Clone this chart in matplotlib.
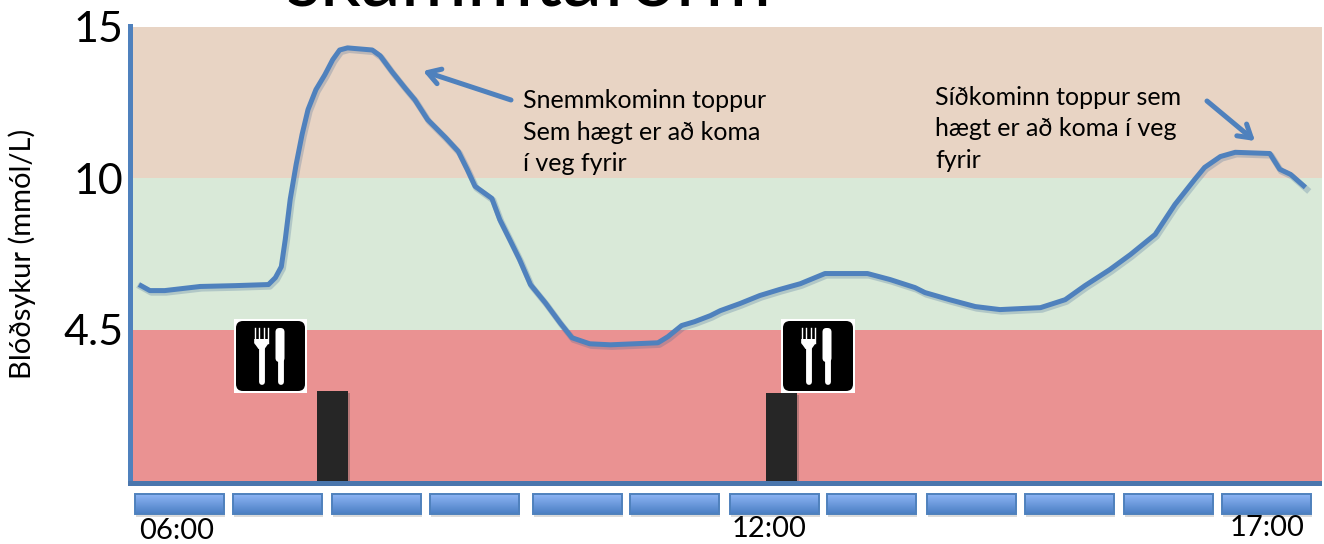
import numpy as np
import matplotlib
matplotlib.use('Agg')
import matplotlib.pyplot as plt
from matplotlib.patches import FancyBboxPatch, Rectangle, Polygon

# glucose curve
hours = [5.59, 5.70, 5.85, 6.21, 6.56, 6.90, 6.97, 7.03, 7.07, 7.12, 7.18, 7.24, 7.30, 7.38, 7.47, 7.55,
         7.62, 7.70, 7.95, 8.03, 8.15, 8.28, 8.38, 8.51, 8.69, 8.82, 8.91, 8.99, 9.16, 9.24, 9.34, 9.44,
         9.55, 9.70, 9.85, 9.97, 10.15, 10.36, 10.84, 10.94, 11.08, 11.21, 11.37, 11.47, 11.67, 11.87,
         12.07, 12.28, 12.53, 12.96, 13.19, 13.44, 13.54, 13.79, 14.05, 14.30, 14.71, 14.96, 15.16,
         15.41, 15.62, 15.87, 16.07, 16.27, 16.37, 16.53, 16.68, 17.03, 17.13, 17.24, 17.39]
glucose = [6.14, 5.92, 5.92, 6.07, 6.10, 6.14, 6.39, 6.79, 7.78, 9.24, 10.46, 11.45, 12.27, 12.93, 13.42, 13.92,
           14.24, 14.31, 14.24, 14.05, 13.52, 12.99, 12.60, 11.94, 11.35, 10.89, 10.30, 9.71, 9.27, 8.50, 7.78, 7.05,
           6.14, 5.48, 4.75, 4.26, 4.08, 4.05, 4.11, 4.29, 4.65, 4.79, 5.01, 5.19, 5.45, 5.74,
           5.96, 6.17, 6.54, 6.54, 6.32, 6.03, 5.85, 5.59, 5.34, 5.23, 5.30, 5.59, 6.10,
           6.68, 7.23, 7.96, 9.05, 9.96, 10.36, 10.72, 10.86, 10.82, 10.30, 10.13, 9.67]

# meals (dark bars)
meal_hours = [7.55, 12.09]
meal_heights = [2.68, 2.62]

# glucose zones
zone_low = [0, 4.5]
zone_ok = [4.5, 10]
zone_high = [10, 15]

y_ticks = [4.5, 10, 15]
y_knots = [0, 4.5, 10, 15]
block_hours = [6.00, 6.99, 7.99, 8.98, 10.03, 11.01, 12.02, 13.00, 14.01, 15.00, 16.01, 17.00]
time_hours = [5.97, 11.96, 17.00]
time_labels = ['06:00', '12:00', '17:00']

W, H = 1324, 544
FONT = 'Lato'
BLUE = '#4F81BD'

plt.rcParams['font.family'] = [FONT, 'DejaVu Sans']


def px_rect(x0, y0, x1, y1):
    # pixel box (y down) to figure fractions
    return [x0 / W, 1 - y1 / H, (x1 - x0) / W, (y1 - y0) / H]


def forward(v):
    return np.interp(v, y_knots, [0, 1, 2, 3])


def inverse(v):
    return np.interp(v, [0, 1, 2, 3], y_knots)


def hour_to_px(h):
    return 179.5 + (h - 6) * 98.85


def px_to_hour(p):
    return 6 + (p - 179.5) / 98.85


def draw_icon(over, x0, y0, x1, y1):
    # white box, black rounded sign, fork and knife
    over.add_patch(Rectangle((x0, y0), x1 - x0, y1 - y0, fc='white', ec='none', zorder=6))
    over.add_patch(FancyBboxPatch((x0 + 2, y0 + 2), x1 - x0 - 4, y1 - y0 - 4,
                                  boxstyle='round,pad=0,rounding_size=7', fc='black', ec='none', zorder=7))
    cx = x0 + 27.5
    for dx in (-6.5, -2.2, 2.2, 6.5):
        over.plot([cx + dx, cx + dx], [y0 + 9, y0 + 24], color='white', lw=1.0, zorder=8)
    over.add_patch(Polygon([(cx - 7.3, y0 + 20), (cx + 7.3, y0 + 20), (cx + 7.3, y0 + 24), (cx + 3, y0 + 30),
                            (cx - 3, y0 + 30), (cx - 7.3, y0 + 24)], fc='white', ec='none', zorder=8))
    over.plot([cx, cx], [y0 + 28, y0 + 63], color='white', lw=4.2, solid_capstyle='round', zorder=8)
    kx = x0 + 46
    over.add_patch(FancyBboxPatch((kx - 4.5, y0 + 9), 9, 34, boxstyle='round,pad=0,rounding_size=4',
                                  fc='white', ec='none', zorder=8))
    over.plot([kx + 1, kx + 1], [y0 + 40, y0 + 63], color='white', lw=4.2, solid_capstyle='round', zorder=8)


fig = plt.figure(figsize=(W / 100, H / 100), dpi=100, facecolor='white')

ax = fig.add_axes(px_rect(133, 27, 1322, 481))
ax.set_yscale('function', functions=(forward, inverse))
ax.set_xlim(px_to_hour(133), px_to_hour(1322))
ax.set_ylim(0, 15)

ax.axhspan(*zone_low, color='#EA9292', lw=0, zorder=1)
ax.axhspan(*zone_ok, color='#D9E9D8', lw=0, zorder=1)
ax.axhspan(*zone_high, color='#E8D4C4', lw=0, zorder=1)

shift = matplotlib.transforms.Affine2D().translate(2, -2)
ax.bar(meal_hours, meal_heights, width=0.315, color='#7A5A5A', alpha=0.45, zorder=2.5,
       transform=ax.transData + shift)
ax.bar(meal_hours, meal_heights, width=0.315, color='#262626', zorder=3)

ax.plot(hours, glucose, color='#3A6494', alpha=0.25, lw=4.5, zorder=3.5,
        transform=ax.transData + matplotlib.transforms.Affine2D().translate(1.5, -2))
ax.plot(hours, glucose, color=BLUE, lw=3.6, solid_joinstyle='round', solid_capstyle='butt', zorder=4)

for s in ('top', 'right', 'left', 'bottom'):
    ax.spines[s].set_visible(False)

ax.set_yticks(y_ticks)
ax.set_yticklabels([str(t) for t in y_ticks], fontsize=31, color='black')
ax.minorticks_off()
ax.tick_params(axis='y', length=0, pad=7)
ax.set_xticks([])

# overlay in pixel coordinates for the slide furniture
over = fig.add_axes([0, 0, 1, 1], zorder=5)
over.set_xlim(0, W)
over.set_ylim(H, 0)
over.axis('off')
over.patch.set_alpha(0)

# axis strokes
over.add_patch(Rectangle((128, 24), 5, 462, fc=BLUE, ec='none', zorder=3))
over.add_patch(Rectangle((128, 481), 1194, 5, fc='#4A76AD', ec='none', zorder=3))

# hour blocks along the bottom
grad = np.linspace(0, 1, 32).reshape(-1, 1)
cmap = matplotlib.colors.LinearSegmentedColormap.from_list('blk', ['#8DB4F4', '#4B7FC4'])
for h in block_hours:
    x0 = hour_to_px(h) - 44.5
    x1 = hour_to_px(h) + 44.5
    over.add_patch(Rectangle((x0 + 1, 497), x1 - x0, 20, fc='#999999', alpha=0.35, ec='none', zorder=2))
    over.imshow(grad, extent=(x0, x1, 514, 494), cmap=cmap, aspect='auto', zorder=3)
    over.add_patch(Rectangle((x0, 494), x1 - x0, 20, fc='none', ec=BLUE, lw=1.4, zorder=4))
over.set_xlim(0, W)
over.set_ylim(H, 0)

for h, lab, y in zip(time_hours, time_labels, (531, 529, 528)):
    over.text(hour_to_px(h), y, lab, fontsize=21, ha='center', va='center', color='black')

draw_icon(over, 234, 319, 307, 393)
draw_icon(over, 781, 319, 855, 393)

# text
fig.text(22 / W, 1 - 254 / H, 'Blóðsykur (mmól/L)', rotation=90, fontsize=21, ha='center', va='center')
over.text(285, 6, 'skammtaform', fontsize=58, ha='left', va='baseline', color='black')

over.text(523, 132, 'Snemmkominn toppur\nSem hægt er að koma\ní veg fyrir', fontsize=18, ha='left', va='center',
          linespacing=1.45, color='black')
over.text(935, 129, 'Síðkominn toppur sem\nhægt er að koma í veg\nfyrir', fontsize=18, ha='left', va='center',
          linespacing=1.45, color='black')

# arrows
arrow = dict(arrowstyle='->,head_length=0.9,head_width=0.55', color=BLUE, lw=3.6, shrinkA=0, shrinkB=0)
over.annotate('', xy=(423, 71), xytext=(511, 100), arrowprops=arrow)
over.annotate('', xy=(1255, 141), xytext=(1207, 101), arrowprops=arrow)

fig.savefig('out.png', dpi=100)
